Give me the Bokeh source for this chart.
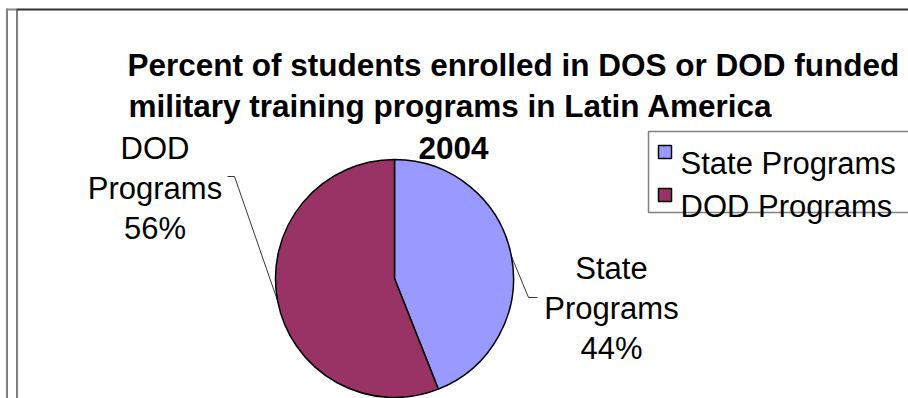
import math
from bokeh.plotting import figure
from bokeh.models import Range1d
from bokeh.embed import file_html
from bokeh.resources import INLINE
from bokeh.core.properties import value

# ---- data ----
categories = ["State Programs", "DOD Programs"]
percents = [44, 56]
colors = ["#9999FF", "#993366"]
title_lines = ["Percent of students enrolled in DOS or DOD funded",
               "military training programs in Latin America",
               "2004"]

# ---- layout (pixel space, y measured downward from top) ----
W, H = 908, 398
def Y(py):
    return H - py

FONT = value("Liberation Sans")
CX, CY, R = 394, 278, 119

p = figure(width=W, height=H, x_range=Range1d(0, W), y_range=Range1d(0, H),
           output_backend="svg", toolbar_location=None, min_border=0,
           x_axis_location=None, y_axis_location=None)
p.grid.visible = False
p.outline_line_color = None
p.background_fill_color = "white"
p.border_fill_color = "white"

# frame (chart area border, cut off at right / bottom)
p.segment(x0=[6.5, 16.5], y0=[Y(8), Y(9)], x1=[6.5, 16.5], y1=[Y(400), Y(400)],
          line_color="#7f7f7f", line_width=2)
p.segment(x0=[6], y0=[Y(9)], x1=[16], y1=[Y(9)], line_color="#8a8a8a", line_width=2)
p.segment(x0=[16], y0=[Y(9)], x1=[910], y1=[Y(9)], line_color="#333333", line_width=2)

# title
p.text(x=[127], y=[Y(64)], text=[title_lines[0]], text_font=FONT, text_font_style="bold",
       text_font_size=value("31.5px"), text_align="left", text_baseline="alphabetic", text_color="black")
p.text(x=[128], y=[Y(105)], text=[title_lines[1]], text_font=FONT, text_font_style="bold",
       text_font_size=value("31.5px"), text_align="left", text_baseline="alphabetic", text_color="black")
p.text(x=[453], y=[Y(147)], text=[title_lines[2]], text_font=FONT, text_font_style="bold",
       text_font_size=value("31.5px"), text_align="center", text_baseline="alphabetic", text_color="black")

# pie
total = float(sum(percents))
starts, ends, mids = [], [], []
a = math.pi / 2
for v in percents:
    e = a - 2 * math.pi * v / total
    starts.append(a)
    ends.append(e)
    mids.append((a + e) / 2)
    a = e
p.wedge(x=[CX] * len(percents), y=[Y(CY)] * len(percents), radius=R,
        start_angle=starts, end_angle=ends, direction="clock",
        fill_color=colors, line_color="black", line_width=1.5)

# data labels with leader lines
label_cx = [611, 154.5]
label_top_base = [268, 148]
line_gap = 40
bend = [(528, 297), (234, 176)]
tip = [(537, 297), (227, 176)]
for i, cat in enumerate(categories):
    ex = CX + R * math.cos(mids[i])
    ey = Y(CY) + R * math.sin(mids[i])
    p.line(x=[ex, bend[i][0], tip[i][0]], y=[ey, Y(bend[i][1]), Y(tip[i][1])],
           line_color="black", line_width=0.8)
    lines = cat.split(" ") + ["%d%%" % percents[i]]
    for j, t in enumerate(lines):
        p.text(x=[label_cx[i]], y=[Y(label_top_base[i] + j * line_gap)], text=[t],
               text_font=FONT, text_font_size=value("31px"), text_align="center",
               text_baseline="alphabetic", text_color="black")

# legend
p.quad(left=[648], right=[920], top=[Y(131)], bottom=[Y(212)],
       fill_color=None, line_color="#808080", line_width=1.5)
leg_y = [151.5, 194.5]
leg_base = [163, 206]
for i, cat in enumerate(categories):
    p.rect(x=[664.5], y=[Y(leg_y[i])], width=13, height=13, fill_color=colors[i],
           line_color="black", line_width=1.5)
    p.text(x=[680], y=[Y(leg_base[i])], text=[cat], text_font=FONT,
           text_font_size=value("31px"), text_align="left", text_baseline="alphabetic",
           text_color="black")

open("out.html", "w").write(file_html(p, INLINE))
